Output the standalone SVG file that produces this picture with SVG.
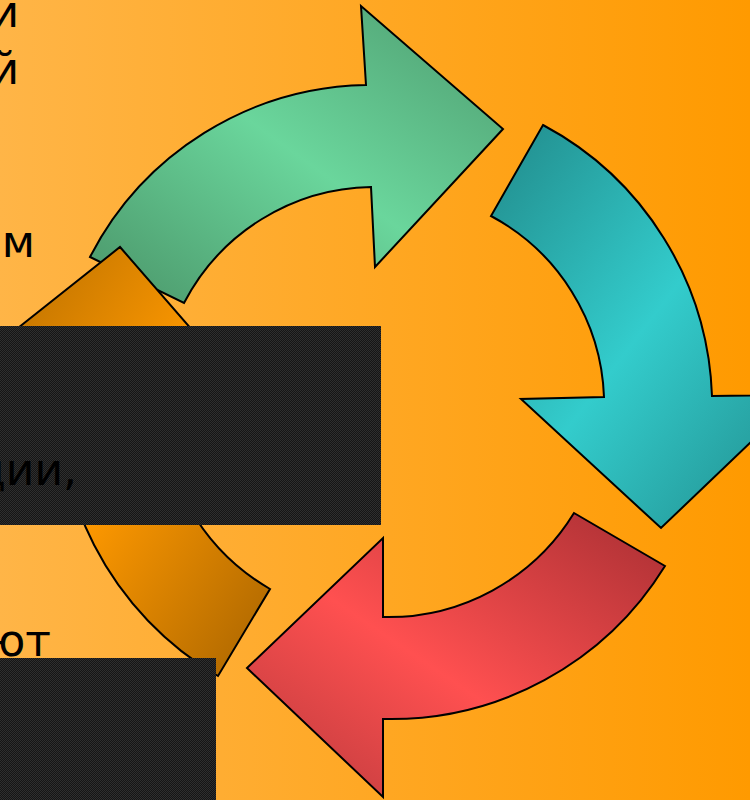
<svg xmlns="http://www.w3.org/2000/svg" width="750" height="800" viewBox="0 0 750 800">
  <style>
    .arrow { stroke: #000; stroke-width: 2; stroke-linejoin: miter; }
    .frag { font-family: "DejaVu Sans", "Liberation Sans", sans-serif; font-size: 44px; fill: #000; text-anchor: end; }
    .mask { fill: url(#dith); }
  </style>
  <defs>
    <linearGradient id="bg" x1="0" y1="0" x2="1" y2="0">
      <stop offset="0" stop-color="#FFB547"/>
      <stop offset="1" stop-color="#FF9A00"/>
    </linearGradient>
    <linearGradient id="gGreen" x1="0" y1="1" x2="1" y2="0">
      <stop offset="0" stop-color="#4A9468"/>
      <stop offset="0.5" stop-color="#6AD69C"/>
      <stop offset="1" stop-color="#4E9A6E"/>
    </linearGradient>
    <linearGradient id="gTeal" x1="0" y1="0" x2="1" y2="1">
      <stop offset="0" stop-color="#218A8A"/>
      <stop offset="0.5" stop-color="#33CCCC"/>
      <stop offset="1" stop-color="#218A8A"/>
    </linearGradient>
    <linearGradient id="gRed" x1="0" y1="1" x2="1" y2="0">
      <stop offset="0" stop-color="#B83A3C"/>
      <stop offset="0.45" stop-color="#FF5050"/>
      <stop offset="1" stop-color="#A82F33"/>
    </linearGradient>
    <linearGradient id="gOrange" x1="0" y1="0" x2="1" y2="1">
      <stop offset="0" stop-color="#B06A00"/>
      <stop offset="0.5" stop-color="#FF9900"/>
      <stop offset="1" stop-color="#A86400"/>
    </linearGradient>
    <pattern id="dith" width="2" height="2" patternUnits="userSpaceOnUse">
      <rect width="2" height="2" fill="#151515"/>
      <rect width="1" height="1" fill="#2e2e2e"/>
      <rect x="1" y="1" width="1" height="1" fill="#2e2e2e"/>
    </pattern>
  </defs>

  <rect width="750" height="800" fill="url(#bg)"/>

  <g id="connectors">
    <g id="arrow-green">
      <path class="arrow" fill="url(#gGreen)" d="M 90,257 A 317 317 0 0 1 366,85 L 361,6 L 503,129 L 375,267 L 371,187 A 215 215 0 0 0 184,303 Z"/>
    </g>
    <g id="arrow-teal">
      <path class="arrow" fill="url(#gTeal)" d="M 543,125 A 320 320 0 0 1 712,396 L 800,395 L 661,528 L 521,399 L 604,397 A 214 214 0 0 0 491,216 Z"/>
    </g>
    <g id="arrow-red">
      <path class="arrow" fill="url(#gRed)" d="M 665,566 A 322 322 0 0 1 383,719 L 383,797 L 247,668 L 383,538 L 383,617 A 218 218 0 0 0 574,513 Z"/>
    </g>
    <g id="arrow-orange">
      <path class="arrow" fill="url(#gOrange)" d="M 218,676 A 322 322 0 0 1 60,368 L -25,362 L 120,247 L 246,392 L 162,378 A 219 219 0 0 0 270,589 Z"/>
    </g>
  </g>

  <g id="mask-1">
    <rect class="mask" x="0" y="326" width="381" height="199"/>
  </g>
  <g id="mask-2">
    <rect class="mask" x="0" y="658" width="216" height="142"/>
  </g>

  <g id="text-fragments">
    <text class="frag" x="19" y="27">и</text>
    <text class="frag" x="19" y="84">й</text>
    <text class="frag" x="35" y="257">м</text>
    <text class="frag" x="77" y="485">дии,</text>
    <text class="frag" x="51" y="656">ют</text>
  </g>
</svg>
